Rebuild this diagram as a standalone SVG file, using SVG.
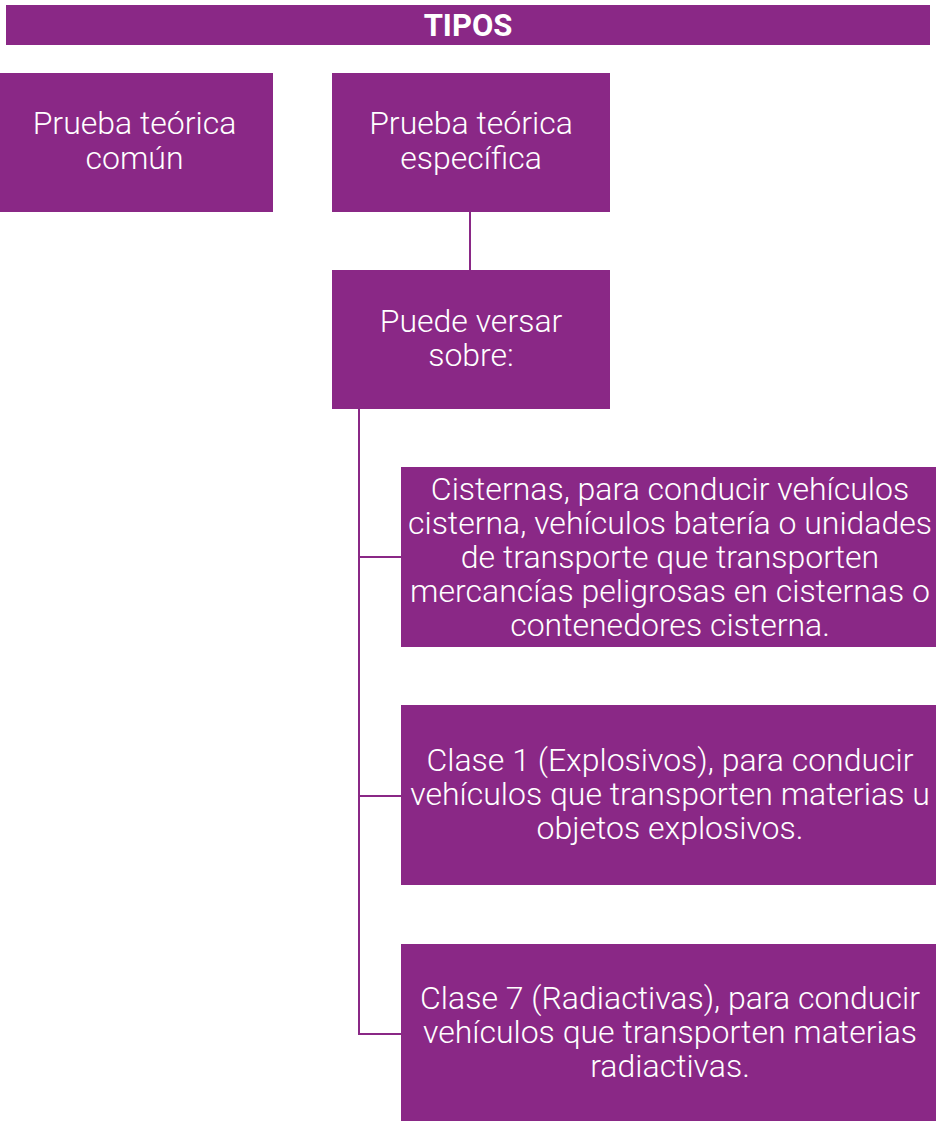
<svg xmlns="http://www.w3.org/2000/svg" width="936" height="1121" viewBox="0 0 936 1121">
<style>
.box{fill:#8A2886;}
.t{font-family:Roboto,"Liberation Sans",sans-serif;font-size:32px;font-weight:300;fill:#ffffff;text-anchor:middle;}
.title{font-family:Roboto,"Liberation Sans",sans-serif;font-size:31px;font-weight:bold;fill:#ffffff;text-anchor:middle;}
.conn{stroke:#8A2886;stroke-width:2;fill:none;}
</style>
<rect width="936" height="1121" fill="#ffffff"/>
<g id="connectors">
<path class="conn" d="M470,211 V270"/>
<path class="conn" d="M359,409 V1034 H401"/>
<path class="conn" d="M359,557 H401"/>
<path class="conn" d="M359,796 H401"/>
</g>
<g id="tipos">
<rect class="box" x="6" y="5" width="924" height="40"/>
<text class="title" x="468" y="36">TIPOS</text>
</g>
<g id="comun">
<rect class="box" x="-4" y="73" width="277" height="139"/>
<text class="t" x="134.5" y="134">Prueba teórica</text>
<text class="t" x="134.5" y="169">común</text>
</g>
<g id="especifica">
<rect class="box" x="332" y="73" width="278" height="139"/>
<text class="t" x="471" y="134">Prueba teórica</text>
<text class="t" x="471" y="169">específica</text>
</g>
<g id="versar">
<rect class="box" x="332" y="270" width="278" height="139"/>
<text class="t" x="471" y="332">Puede versar</text>
<text class="t" x="471" y="366">sobre:</text>
</g>
<g id="cisternas">
<rect class="box" x="401" y="467" width="539" height="180"/>
<text class="t" x="670" y="500">Cisternas, para conducir vehículos</text>
<text class="t" x="670" y="534">cisterna, vehículos batería o unidades</text>
<text class="t" x="670" y="568">de transporte que transporten</text>
<text class="t" x="670" y="602">mercancías peligrosas en cisternas o</text>
<text class="t" x="670" y="636">contenedores cisterna.</text>
</g>
<g id="clase1">
<rect class="box" x="401" y="705" width="539" height="180"/>
<text class="t" x="670" y="771">Clase 1 (Explosivos), para conducir</text>
<text class="t" x="670" y="805">vehículos que transporten materias u</text>
<text class="t" x="670" y="839">objetos explosivos.</text>
</g>
<g id="clase7">
<rect class="box" x="401" y="944" width="539" height="177"/>
<text class="t" x="670" y="1009">Clase 7 (Radiactivas), para conducir</text>
<text class="t" x="670" y="1043">vehículos que transporten materias</text>
<text class="t" x="670" y="1077">radiactivas.</text>
</g>
</svg>
